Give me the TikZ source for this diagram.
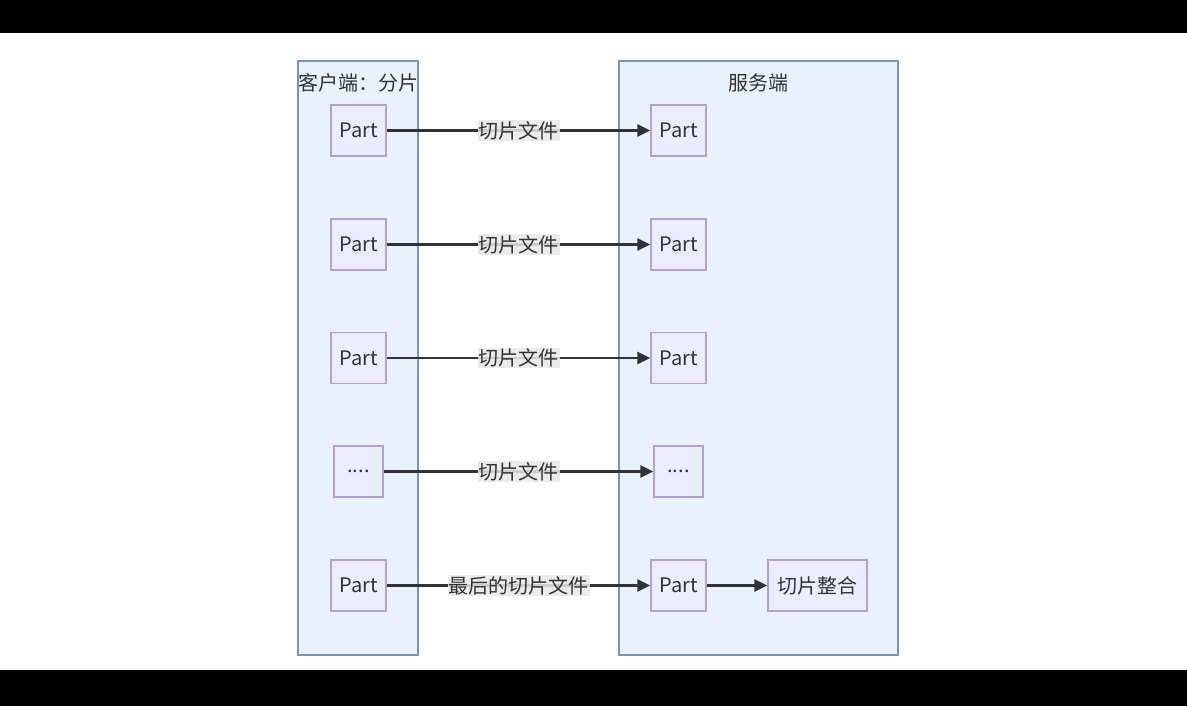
\documentclass[tikz,border=0pt]{standalone}
\usepackage{fontspec}
\setmainfont{Noto Sans CJK SC}
\usetikzlibrary{arrows.meta}
\definecolor{clfill}{HTML}{E8F1FC}
\definecolor{cldraw}{HTML}{7596C4}
\definecolor{ndfill}{HTML}{ECECFF}
\definecolor{nddraw}{HTML}{B39DDB}
\definecolor{edge}{HTML}{333333}
\definecolor{lblbg}{HTML}{E8E8E8}
\tikzset{
  cluster/.style={draw=cldraw, fill=clfill, line width=1.3pt},
  part/.style={draw=nddraw, fill=ndfill, line width=1.3pt, minimum width=55pt, minimum height=51pt, inner sep=0pt, font=\fontsize{20}{24}\selectfont, text=edge},
  dots/.style={part, minimum width=49pt},
  merge/.style={part, minimum width=99pt},
  title/.style={font=\fontsize{20}{24}\selectfont, text=edge, inner sep=0pt},
  lbl/.style={fill=lblbg, fill opacity=0.85, text opacity=1, text=edge, inner sep=1pt, font=\fontsize{20}{24}\selectfont},
  arr/.style={draw=edge, line width=2.3pt, -{Triangle[length=13pt,width=12pt]}}
}
\begin{document}
\begin{tikzpicture}[x=1pt,y=-1pt]
\useasboundingbox (0,0) rectangle (1187,706);
\fill[black] (0,0) rectangle (1187,33);
\fill[black] (0,670) rectangle (1187,706);
\fill[white] (0,33) rectangle (1187,670);
\draw[cluster] (298,61) rectangle (418,655);
\draw[cluster] (619,61) rectangle (898,655);
\node[title] (tc) at (358,83) {客户端：分片};
\node[title] (ts) at (758,83) {服务端};
\node[part] (c1) at (358.5,130.5) {Part};
\node[part] (c2) at (358.5,244.5) {Part};
\node[part] (c3) at (358.5,358) {Part};
\node[dots] (c4) at (358.5,471.5) {....};
\node[part] (c5) at (358.5,585.5) {Part};
\node[part] (s1) at (678.5,130.5) {Part};
\node[part] (s2) at (678.5,244.5) {Part};
\node[part] (s3) at (678.5,358) {Part};
\node[dots] (s4) at (678.5,471.5) {....};
\node[part] (s5) at (678.5,585.5) {Part};
\node[merge] (m) at (817.5,585.5) {切片整合};
\draw[arr] (c1) -- node[lbl] {切片文件} (s1);
\draw[arr] (c2) -- node[lbl] {切片文件} (s2);
\draw[arr] (c3) -- node[lbl] {切片文件} (s3);
\draw[arr] (c4) -- node[lbl] {切片文件} (s4);
\draw[arr] (c5) -- node[lbl] {最后的切片文件} (s5);
\draw[arr] (s5) -- (m);
\end{tikzpicture}
\end{document}
